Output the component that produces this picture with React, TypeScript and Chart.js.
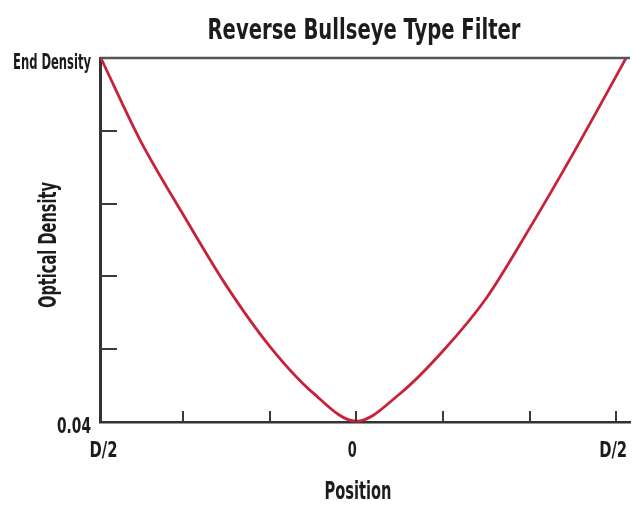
import React, { useEffect, useRef } from "react";
import { Chart, registerables } from "chart.js";

Chart.register(...registerables);

const titleText = "Reverse Bullseye Type Filter";
const xAxisTitle = "Position";
const yAxisTitle = "Optical Density";

// Position (tick units: -3 = left edge D/2, 0 = centre, 3 = right edge D/2)
const positions = [-2.95, -2.5, -2, -1.5, -1, -0.5, 0, 0.5, 1, 1.5, 2, 2.5, 3, 3.114];
// Optical density (0 = 0.04, 5 = End Density)
const densities = [5.0, 3.88, 2.85, 1.87, 1.04, 0.4, 0.01, 0.385, 0.975, 1.7, 2.66, 3.68, 4.75, 5.0];

const xTickValues = [-3, -2, -1, 0, 1, 2, 3];
const xTickLabels: Record<string, string> = { "-3": "D/2", "0": "0", "3": "D/2" };
const yTickLabels: Record<string, string> = { "0": "0.04", "5": "End Density" };

const FONT = "'DejaVu Sans Condensed', 'DejaVu Sans', sans-serif";
const TEXT = "#1c1c1c";

// Draw condensed bold text (horizontally compressed to a given width)
function condensedText(
  ctx: CanvasRenderingContext2D,
  text: string,
  x: number,
  y: number,
  size: number,
  width: number,
  align: "left" | "center" | "right",
  rotation = 0
) {
  ctx.save();
  ctx.font = `bold ${size}px ${FONT}`;
  const measured = ctx.measureText(text).width || 1;
  const sx = width / measured;
  ctx.translate(x, y);
  ctx.rotate(rotation);
  ctx.scale(sx, 1);
  ctx.fillStyle = TEXT;
  ctx.textAlign = align;
  ctx.textBaseline = "alphabetic";
  ctx.fillText(text, 0, 0);
  ctx.restore();
}

const tickLabelWidths: Record<string, number> = { "End Density": 78, "0.04": 34, "D/2": 28, "0": 9 };

const decorations = {
  id: "decorations",
  afterDatasetsDraw(chart: any) {
    const { ctx, chartArea, scales } = chart;
    ctx.save();
    // top frame line
    ctx.strokeStyle = "#555";
    ctx.lineWidth = 2.5;
    ctx.beginPath();
    ctx.moveTo(chartArea.left, chartArea.top);
    ctx.lineTo(chartArea.right, chartArea.top);
    ctx.stroke();
    // y ticks pointing inward
    ctx.strokeStyle = "#3a3a3a";
    ctx.lineWidth = 2;
    scales.y.ticks.forEach((t: any) => {
      if (t.value <= 0 || t.value >= 5) return;
      const y = Math.round(scales.y.getPixelForValue(t.value));
      ctx.beginPath();
      ctx.moveTo(chartArea.left, y);
      ctx.lineTo(chartArea.left + 17, y);
      ctx.stroke();
    });
    // x ticks pointing inward
    scales.x.ticks.forEach((t: any) => {
      if (t.value <= -3) return;
      const x = Math.round(scales.x.getPixelForValue(t.value));
      ctx.beginPath();
      ctx.moveTo(x, chartArea.bottom);
      ctx.lineTo(x, chartArea.bottom - 11);
      ctx.stroke();
    });
    ctx.restore();

    // tick labels
    scales.y.ticks.forEach((t: any) => {
      const label = yTickLabels[String(t.value)];
      if (!label) return;
      const y = scales.y.getPixelForValue(t.value);
      condensedText(ctx, label, chartArea.left - 9, y + 10.5, 21, tickLabelWidths[label], "right");
    });
    scales.x.ticks.forEach((t: any) => {
      const label = xTickLabels[String(t.value)];
      if (!label) return;
      const x = scales.x.getPixelForValue(t.value);
      const dx = t.value === -3 ? 7 : t.value === 3 ? -3 : -4;
      condensedText(ctx, label, x + dx, chartArea.bottom + 35, 21, tickLabelWidths[label], "center");
    });

    // titles
    const cx = (chartArea.left + chartArea.right) / 2;
    const cy = (chartArea.top + chartArea.bottom) / 2;
    condensedText(ctx, titleText, cx - 1, 39, 28, 313, "center");
    condensedText(ctx, xAxisTitle, cx - 7, 499, 24, 67, "center");
    condensedText(ctx, yAxisTitle, 56, cy + 5, 24, 126, "center", -Math.PI / 2);
  },
};

export default function App() {
  const ref = useRef<HTMLCanvasElement | null>(null);
  useEffect(() => {
    if (!ref.current) return;
    const chart = new Chart(ref.current, {
      type: "line",
      data: {
        datasets: [
          {
            data: positions.map((x, i) => ({ x, y: densities[i] })),
            borderColor: "#c8223a",
            borderWidth: 2.8,
            pointRadius: 0,
            cubicInterpolationMode: "monotone",
            fill: false,
            clip: false as any,
          },
        ],
      },
      options: {
        responsive: false,
        animation: false,
        layout: { padding: { left: 0, right: 4, top: 58, bottom: 0 } },
        plugins: {
          legend: { display: false },
          tooltip: { enabled: false },
          title: { display: false },
        },
        scales: {
          x: {
            type: "linear",
            min: -2.96,
            max: 3.16,
            afterBuildTicks: (scale: any) => {
              scale.ticks = xTickValues.map((v) => ({ value: v }));
            },
            afterFit: (scale: any) => {
              scale.height = 84;
              scale.paddingLeft = 0;
              scale.paddingRight = 0;
            },
            grid: { display: false, drawTicks: false },
            border: { display: true, color: "#333", width: 2.5 },
            ticks: { display: false },
          },
          y: {
            type: "linear",
            min: 0,
            max: 5,
            afterFit: (scale: any) => {
              scale.width = 100;
              scale.paddingTop = 0;
              scale.paddingBottom = 0;
            },
            grid: { display: false, drawTicks: false },
            border: { display: true, color: "#333", width: 3 },
            ticks: { display: false, stepSize: 1 },
          },
        },
      },
      plugins: [decorations],
    });
    return () => chart.destroy();
  }, []);
  return (
    <div style={{ position: "fixed", left: 0, top: 0, width: 634, height: 506, background: "#fff" }}>
      <canvas ref={ref} width={634} height={506} style={{ display: "block" }} />
    </div>
  );
}
